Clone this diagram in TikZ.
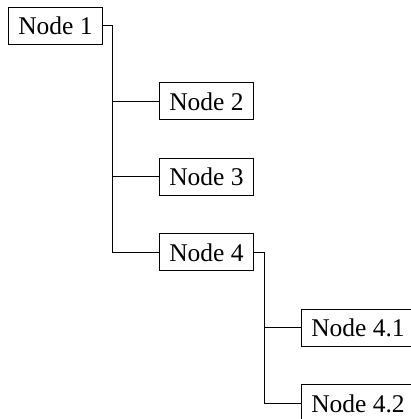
\documentclass[tikz,border=0pt]{standalone}
\usepackage{fontspec}
\setmainfont{Liberation Serif}
\begin{document}
\begin{tikzpicture}[x=1pt,y=1pt,
  treenode/.style={draw, line width=0.8pt, font=\fontsize{25.5}{30}\selectfont,
    inner xsep=10pt, inner ysep=0pt, text height=18.6pt, text depth=0pt,
    minimum height=37pt},
  branch/.style={line width=0.8pt}]
  \useasboundingbox (0,0) rectangle (410,419);
  % level 0
  \node[treenode] (n1) at (55.5,393.5) {Node 1};
  % level 1
  \node[treenode] (n2) at (206.5,318) {Node 2};
  \node[treenode] (n3) at (206.5,242.5) {Node 3};
  \node[treenode] (n4) at (206.5,167) {Node 4};
  % level 2
  \node[treenode] (n41) at (358,91.5) {Node 4.1};
  \node[treenode] (n42) at (358,16) {Node 4.2};
  % folder-style connectors
  \coordinate (t1) at ([xshift=9.5pt]n1.east);
  \coordinate (t4) at ([xshift=10pt]n4.east);
  \draw[branch] (n1.east) -- (t1) |- (n4.west);
  \draw[branch] (t1) |- (n2.west);
  \draw[branch] (t1) |- (n3.west);
  \draw[branch] (n4.east) -- (t4) |- (n42.west);
  \draw[branch] (t4) |- (n41.west);
\end{tikzpicture}
\end{document}
